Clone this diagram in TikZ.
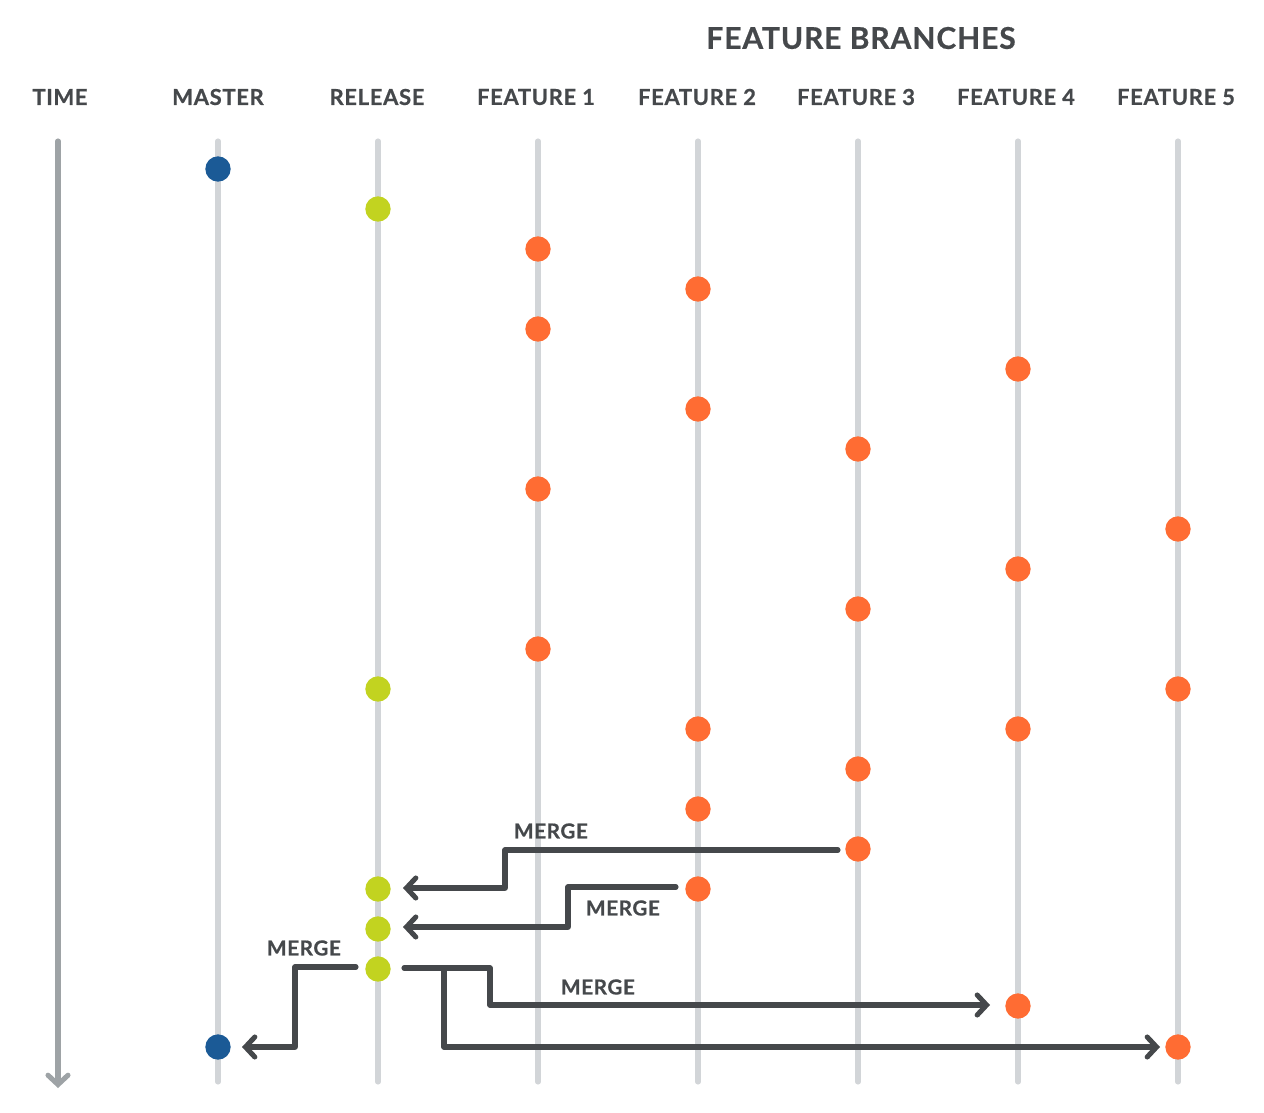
\documentclass[tikz,border=0pt]{standalone}
\usepackage{fontspec}
\setmainfont{Lato}
\newfontfamily\labelfont{Lato}[LetterSpace=3,BoldFeatures={FakeBold=0.6}]
\usetikzlibrary{arrows.meta,calc}
\definecolor{ink}{HTML}{45484B}
\definecolor{rail}{HTML}{D2D5D8}
\definecolor{timegrey}{HTML}{9EA3A6}
\definecolor{masterblue}{HTML}{1B5A96}
\definecolor{releaselime}{HTML}{C2D320}
\definecolor{featorange}{HTML}{FF6C33}
\begin{document}
\begin{tikzpicture}[x=0.75pt,y=-0.75pt,
  railline/.style={rail,line width=3.8pt,line cap=round},
  timeline/.style={timegrey,line width=3.8pt,line cap=round,
    -{Straight Barb[length=7pt,width=15pt,line width=3.8pt,line cap=round]}},
  commit/.style={circle,inner sep=0pt,minimum size=19pt},
  mastercommit/.style={commit,fill=masterblue},
  releasecommit/.style={commit,fill=releaselime},
  featurecommit/.style={commit,fill=featorange},
  head/.style={text=ink,font=\labelfont\bfseries\fontsize{16.5}{18}\selectfont},
  title/.style={text=ink,font=\labelfont\bfseries\fontsize{22.5}{24}\selectfont},
  mergelabel/.style={text=ink,font=\labelfont\bfseries\fontsize{15.5}{17}\selectfont},
  mergearrow/.style={ink,line width=3.8pt,line cap=round,line join=round,
    -{Straight Barb[length=7pt,width=15pt,line width=3.8pt,line cap=round]}},
  mergeline/.style={ink,line width=3.8pt,line cap=round,line join=round}]

\useasboundingbox (0,0) rectangle (1264,1113);

% column headings
\node[title] (branches) at (861,38) {FEATURE BRANCHES};
\node[head] (htime) at (60,97) {TIME};
\node[head] (hmaster) at (218,97) {MASTER};
\node[head] (hrelease) at (377,97) {RELEASE};
\node[head] (hf1) at (536,97) {FEATURE 1};
\node[head] (hf2) at (697,97) {FEATURE 2};
\node[head] (hf3) at (856,97) {FEATURE 3};
\node[head] (hf4) at (1016,97) {FEATURE 4};
\node[head] (hf5) at (1176,97) {FEATURE 5};

% time axis and branch rails
\coordinate (ttop) at (58,141);
\coordinate (tbot) at (58,1088);
\draw[timeline] (ttop) -- (tbot);
\foreach \n/\x in {master/218,release/378,fa/538,fb/698,fc/858,fd/1018,fe/1178}{
  \coordinate (\n top) at (\x,141);
  \coordinate (\n bot) at (\x,1082);
  \draw[railline] (\n top) -- (\n bot);
}

% master commits
\node[mastercommit] (m1) at (218,169) {};
\node[mastercommit] (m2) at (218,1047) {};

% release commits
\node[releasecommit] (r1) at (378,209) {};
\node[releasecommit] (r2) at (378,689) {};
\node[releasecommit] (r3) at (378,889) {};
\node[releasecommit] (r4) at (378,929) {};
\node[releasecommit] (r5) at (378,969) {};

% feature 1
\node[featurecommit] (a1) at (538,249) {};
\node[featurecommit] (a2) at (538,329) {};
\node[featurecommit] (a3) at (538,489) {};
\node[featurecommit] (a4) at (538,649) {};
% feature 2
\node[featurecommit] (b1) at (698,289) {};
\node[featurecommit] (b2) at (698,409) {};
\node[featurecommit] (b3) at (698,729) {};
\node[featurecommit] (b4) at (698,809) {};
\node[featurecommit] (b5) at (698,889) {};
% feature 3
\node[featurecommit] (c1) at (858,449) {};
\node[featurecommit] (c2) at (858,609) {};
\node[featurecommit] (c3) at (858,769) {};
\node[featurecommit] (c4) at (858,849) {};
% feature 4
\node[featurecommit] (d1) at (1018,369) {};
\node[featurecommit] (d2) at (1018,569) {};
\node[featurecommit] (d3) at (1018,729) {};
\node[featurecommit] (d4) at (1018,1006) {};
% feature 5
\node[featurecommit] (e1) at (1178,529) {};
\node[featurecommit] (e2) at (1178,689) {};
\node[featurecommit] (e3) at (1178,1047) {};

% merges into release
\draw[mergearrow] ($(c4.center)+(-20,1)$) -| (505,888) -- ($(r3.center)+(25,-1)$);
\node[mergelabel] (ml1) at (551,831) {MERGE};
\draw[mergearrow] ($(b5.center)+(-22,-2)$) -| (568,927) -- ($(r4.center)+(25,-2)$);
\node[mergelabel] (ml2) at (623,908) {MERGE};

% release back into master
\draw[mergearrow] ($(r5.center)+(-22,-2)$) -| (295,1047) -- ($(m2.center)+(24,0)$);
\node[mergelabel] (ml3) at (304,948) {MERGE};

% release out to features 4 and 5
\coordinate (fork) at (444,968);
\draw[mergearrow] ($(r5.center)+(26,-1)$) -| (490,1005) -- ($(d4.center)+(-28,-1)$);
\draw[mergearrow] (fork) |- ($(e3.center)+(-18,0)$);
\node[mergelabel] (ml4) at (598,987) {MERGE};
\end{tikzpicture}
\end{document}
